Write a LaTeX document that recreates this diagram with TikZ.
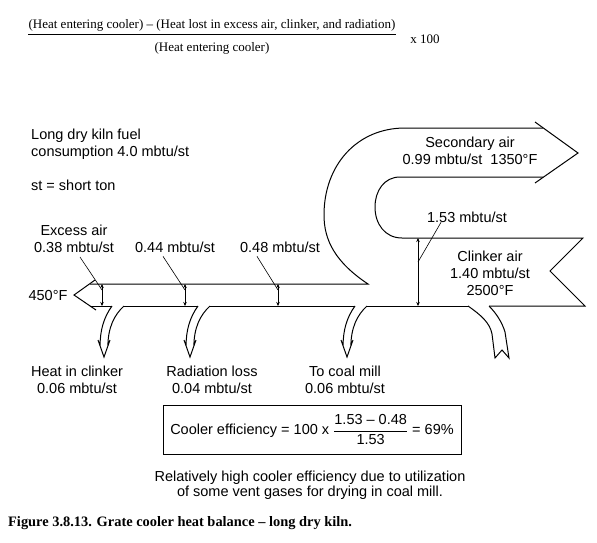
\documentclass[tikz,border=0pt]{standalone}
\usepackage{amsmath}
\usepackage{fontspec}
\setmainfont{Liberation Sans}
\newfontfamily\serif{Liberation Serif}
\usetikzlibrary{arrows.meta}

\begin{document}
\begin{tikzpicture}[
    x=1pt, y=-1pt,
    flow/.style={line width=1pt, line join=miter},
    lead/.style={line width=0.6pt},
    gauge/.style={line width=0.6pt, {Stealth[length=4pt,width=3.5pt]}-{Stealth[length=4pt,width=3.5pt]}},
    lbl/.style={font=\fontsize{14.5}{17}\selectfont, align=center, inner sep=0pt},
    eqn/.style={font=\serif\fontsize{13}{15}\selectfont, inner sep=0pt}
]
\useasboundingbox (0,0) rectangle (597,542);

% efficiency definition
\node[eqn, anchor=base] (num) at (212,28) {(Heat entering cooler) – (Heat lost in excess air, clinker, and radiation)};
\node[eqn, anchor=base] (den) at (212,51) {(Heat entering cooler)};
\draw[line width=0.6pt] ([yshift=-3.5pt]num.south west) -- ([yshift=-3.5pt]num.south east);
\node[eqn, anchor=base] (hundred) at (425,43) {x 100};

\node[lbl, align=left, anchor=north west] (fuel) at (31,129) {Long dry kiln fuel\\consumption 4.0 mbtu/st};
\node[lbl, anchor=base west] (ton) at (31,190) {st = short ton};

% cooler flows
\draw[flow] (95,280) -- (74,295) -- (96,310);
\draw[flow] (90,284) -- (368,284) .. controls (335,262) and (324,240) .. (324,215)
    .. controls (324,165) and (357,128) .. (405,128) -- (543,128);
\draw[flow] (535,122) -- (578,153) -- (535,183);
\draw[flow] (543,177) -- (400,177) .. controls (384,177) and (375,191) .. (375,207)
    .. controls (375,224) and (385,238) .. (402,238) -- (583,238) -- (550,271) -- (585,306) -- (489,306);
\draw[flow] (90,306) -- (112,306) (124,306) -- (198,306) (210,306) -- (355,306) (367,306) -- (468,306);
\draw[flow, shift={(112,306)}] (0,0) .. controls (-8,11) and (-12,24) .. (-11.9,40)
    (-14,34) -- (-8,51) -- (-2,34) (-4.1,40) .. controls (-4,22) and (2,9) .. (12,0);
\draw[flow, shift={(198,306)}] (0,0) .. controls (-8,11) and (-12,24) .. (-11.9,40)
    (-14,34) -- (-8,51) -- (-2,34) (-4.1,40) .. controls (-4,22) and (2,9) .. (12,0);
\draw[flow, shift={(355,306)}] (0,0) .. controls (-8,11) and (-12,24) .. (-11.9,40)
    (-14,34) -- (-8,51) -- (-2,34) (-4.1,40) .. controls (-4,22) and (2,9) .. (12,0);
\draw[flow] (468,306) .. controls (481,315) and (490,323) .. (492,334) -- (495,358) -- (502,350)
    -- (509,358) -- (505,332) .. controls (502,322) and (496,313) .. (489,306);

% heat gauges
\coordinate (g38t) at (102,284);
\coordinate (g38b) at (102,306);
\coordinate (g38m) at (102,290);
\coordinate (g44t) at (185,284);
\coordinate (g44b) at (185,306);
\coordinate (g44m) at (185,290);
\coordinate (g48t) at (278,284);
\coordinate (g48b) at (278,306);
\coordinate (g48m) at (278,290);
\coordinate (g153t) at (418,238);
\coordinate (g153b) at (418,306);
\coordinate (g153m) at (418,262);
\draw[gauge] (g38t) -- (g38b);
\draw[gauge] (g44t) -- (g44b);
\draw[gauge] (g48t) -- (g48b);
\draw[gauge] (g153t) -- (g153b);

\node[lbl, anchor=north] (excess) at (74,225) {Excess air\\0.38 mbtu/st};
\node[lbl, anchor=base] (q44) at (175,252) {0.44 mbtu/st};
\node[lbl, anchor=base] (q48) at (280,252) {0.48 mbtu/st};
\node[lbl, anchor=base] (hot) at (48,300) {450°F};
\node[lbl, anchor=north] (secondary) at (470,136.5) {Secondary air\\0.99 mbtu/st~~1350°F};
\node[lbl, anchor=base] (q153) at (467,222) {1.53 mbtu/st};
\node[lbl, anchor=north] (clinkerair) at (490,250.5) {Clinker air\\1.40 mbtu/st\\2500°F};

\draw[lead] ([xshift=6pt,yshift=-4pt]excess.south) -- (g38m);
\draw[lead] ([xshift=-12pt,yshift=-4pt]q44.south) -- (g44m);
\draw[lead] ([xshift=-23pt,yshift=-4pt]q48.south) -- (g48m);
\draw[lead] ([xshift=-26pt]q153.south) -- (g153m);

\node[lbl, anchor=north] (inclinker) at (77,365.5) {Heat in clinker\\0.06 mbtu/st};
\node[lbl, anchor=north] (radiation) at (212,365.5) {Radiation loss\\0.04 mbtu/st};
\node[lbl, anchor=north] (coalmill) at (345,365.5) {To coal mill\\0.06 mbtu/st};

\node[lbl, draw, line width=0.8pt, minimum width=298pt, minimum height=49pt] (eff) at (312,429.5)
    {Cooler efficiency = 100 x $\dfrac{\text{1.53 – 0.48}}{\text{1.53}}$ = 69\%};
\node[lbl, font=\fontsize{14.5}{15}\selectfont, anchor=north] (remark) at (310,470.5)
    {Relatively high cooler efficiency due to utilization\\of some vent gases for drying in coal mill.};

\node[font=\serif\bfseries\fontsize{14.4}{16}\selectfont, inner sep=0pt, anchor=base west] (caption) at (8,526)
    {Figure 3.8.13. Grate cooler heat balance – long dry kiln.};
\end{tikzpicture}
\end{document}
